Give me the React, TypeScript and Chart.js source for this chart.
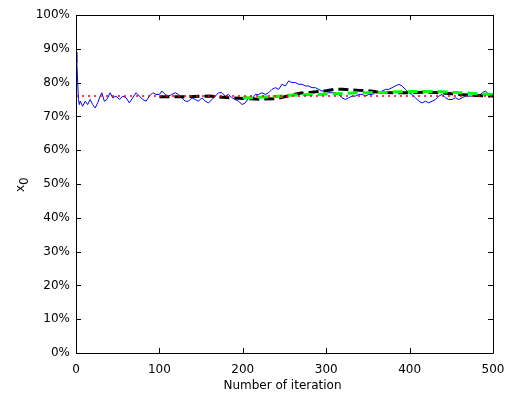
import React, { useEffect, useRef } from 'react';
import { Chart, registerables } from 'chart.js';

Chart.register(...registerables);

const xTickValues = [0, 100, 200, 300, 400, 500];
const yTickValues = [0, 10, 20, 30, 40, 50, 60, 70, 80, 90, 100];
const xTitle = 'Number of iteration';
const yTitleMain = 'x';
const yTitleSub = '0';

const blueIter = [0, 1, 2, 3, 4, 5, 8, 11, 14, 17, 20, 23, 26, 29, 31, 34, 37, 41, 44, 48, 52, 56, 60, 64, 68, 72, 76, 80, 84, 88, 92, 96, 100, 103, 107, 111, 115, 119, 123, 127, 131, 135, 139, 143, 147, 151, 155, 159, 163, 167, 171, 175, 179, 183, 187, 191, 195, 199, 203, 207, 211, 215, 219, 223, 227, 231, 235, 239, 243, 247, 251, 255, 259, 263, 267, 271, 275, 279, 283, 287, 291, 295, 299, 303, 307, 311, 315, 319, 323, 327, 331, 335, 339, 343, 347, 351, 355, 359, 363, 367, 371, 375, 379, 383, 387, 391, 395, 399, 403, 407, 411, 415, 419, 423, 427, 431, 435, 439, 443, 447, 451, 455, 459, 463, 467, 471, 475, 479, 483, 487, 491, 495, 500];
const blueValue = [89, 86, 80, 75, 73.5, 74.5, 73, 74.5, 73.5, 75, 73.5, 72.5, 74, 76, 77, 74.5, 75, 77, 75.5, 76, 75, 76, 75.5, 74, 75.5, 77, 76, 75, 74.5, 76, 77, 76.5, 76.5, 77.5, 76.5, 76, 76.5, 77, 76.5, 75.5, 74.5, 74.5, 75.5, 75, 74.5, 75.5, 74.5, 74, 75, 76, 77, 77, 76, 76.5, 75.5, 75, 74.5, 73.5, 74, 75.5, 75, 76.5, 76.5, 77, 76.5, 77, 78, 78.5, 78, 79.5, 79, 80.5, 80, 80, 79.5, 79.5, 79, 79, 78.5, 78.5, 78, 77.5, 77.5, 77, 77, 77, 76.5, 75.5, 75, 75.5, 76, 76, 76.5, 76.5, 76, 76.5, 76.5, 77, 77, 77.5, 78, 78, 78.5, 79, 79.5, 79, 78, 77, 76.5, 75.5, 74.5, 74, 74.5, 74, 74.5, 75, 76, 76.5, 75.5, 75, 75, 75.5, 75, 75.5, 76, 76, 76, 76.5, 76, 77, 77.5, 76.5, 76.5];

const blackIter = [100, 120, 140, 160, 180, 200, 220, 240, 250, 260, 270, 280, 290, 300, 310, 320, 330, 340, 350, 360, 370, 380, 390, 400, 410, 420, 430, 440, 450, 460, 470, 480, 490, 500];
const blackValue = [75.8, 75.8, 75.9, 76, 75.6, 75.3, 75.1, 75.2, 75.8, 76.4, 76.9, 77.1, 77.4, 77.6, 78, 78, 77.8, 77.7, 77.6, 77.3, 77.1, 77, 77, 77, 77.1, 77.2, 77.1, 76.9, 76.7, 76.5, 76.3, 76.2, 76.1, 76];

const greenIter = [200, 210, 220, 230, 240, 250, 260, 270, 280, 290, 300, 310, 320, 330, 340, 350, 360, 370, 380, 390, 400, 410, 420, 430, 440, 450, 460, 470, 480, 490, 500];
const greenValue = [75.5, 75.5, 75.7, 75.8, 75.9, 76.1, 76.3, 76.4, 76.5, 76.5, 76.6, 76.7, 76.8, 76.9, 77, 77, 77.1, 77.1, 77.2, 77.3, 77.4, 77.4, 77.4, 77.4, 77.3, 77.2, 77, 76.9, 76.7, 76.6, 76.5];

const redIter = [0, 500];
const redValue = [76, 76];

const toPoints = (xs: number[], ys: number[]) => xs.map((x, i) => ({ x, y: ys[i] }));

const FONT = "'DejaVu Sans', sans-serif";

const framePlugin = {
  id: 'matlabFrame',
  afterDraw(chart: any) {
    const { ctx, chartArea, scales } = chart;
    const { left, right, top, bottom } = chartArea;
    ctx.save();
    ctx.strokeStyle = '#000';
    ctx.lineWidth = 1;
    ctx.beginPath();
    ctx.rect(Math.round(left) + 0.5, Math.round(top) + 0.5, Math.round(right - left), Math.round(bottom - top));
    const tl = 5;
    xTickValues.forEach((v) => {
      const px = Math.round(scales.x.getPixelForValue(v)) + 0.5;
      ctx.moveTo(px, bottom);
      ctx.lineTo(px, bottom - tl);
      ctx.moveTo(px, top);
      ctx.lineTo(px, top + tl);
    });
    yTickValues.forEach((v) => {
      const py = Math.round(scales.y.getPixelForValue(v)) + 0.5;
      ctx.moveTo(left, py);
      ctx.lineTo(left + tl, py);
      ctx.moveTo(right, py);
      ctx.lineTo(right - tl, py);
    });
    ctx.stroke();

    ctx.fillStyle = '#000';
    ctx.font = `12px ${FONT}`;
    ctx.textAlign = 'center';
    ctx.textBaseline = 'alphabetic';
    ctx.fillText(xTitle, (left + right) / 2 - 2, 389);

    const cy = (top + bottom) / 2;
    ctx.translate(24, cy + 2);
    ctx.rotate(-Math.PI / 2);
    ctx.textAlign = 'left';
    ctx.font = `12px ${FONT}`;
    const w = ctx.measureText(yTitleMain).width;
    ctx.fillText(yTitleMain, -6, 0);
    ctx.fillText(yTitleSub, -6 + w, 4);
    ctx.restore();
  },
};

export default function App() {
  const ref = useRef<HTMLCanvasElement | null>(null);
  useEffect(() => {
    if (!ref.current) return;
    const chart = new Chart(ref.current, {
      type: 'line',
      data: {
        datasets: [
          {
            data: toPoints(redIter, redValue),
            borderColor: '#ff0000',
            borderWidth: 1.5,
            borderDash: [2, 4],
            pointRadius: 0,
            order: 0,
          },
          {
            data: toPoints(greenIter, greenValue),
            borderColor: '#00ff00',
            borderWidth: 3,
            borderDash: [10, 5],
            pointRadius: 0,
            order: 1,
          },
          {
            data: toPoints(blackIter, blackValue),
            borderColor: '#000000',
            borderWidth: 3,
            borderDash: [10, 5],
            pointRadius: 0,
            order: 2,
          },
          {
            data: toPoints(blueIter, blueValue),
            borderColor: '#0000ff',
            borderWidth: 1,
            pointRadius: 0,
            order: 3,
          },
        ],
      },
      options: {
        responsive: false,
        animation: false,
        events: [],
        layout: { padding: { left: 0, right: 12, top: 15, bottom: 0 } },
        plugins: { legend: { display: false }, tooltip: { enabled: false } },
        scales: {
          x: {
            type: 'linear',
            min: 0,
            max: 500,
            afterBuildTicks: (scale: any) => {
              scale.ticks = xTickValues.map((v) => ({ value: v }));
            },
            grid: { display: false, drawTicks: false },
            border: { display: false },
            ticks: { color: '#000', font: { family: FONT, size: 12 }, padding: 10, maxRotation: 0 },
            afterFit: (scale: any) => {
              scale.height = 44;
              scale.paddingLeft = 0;
              scale.paddingRight = 0;
            },
          },
          y: {
            type: 'linear',
            min: 0,
            max: 100,
            afterBuildTicks: (scale: any) => {
              scale.ticks = yTickValues.map((v) => ({ value: v }));
            },
            grid: { display: false, drawTicks: false },
            border: { display: false },
            ticks: {
              color: '#000',
              font: { family: FONT, size: 12 },
              padding: 6,
              callback: (v: any) => `${v}%`,
            },
            afterFit: (scale: any) => {
              scale.width = 76;
              scale.paddingTop = 0;
              scale.paddingBottom = 0;
            },
          },
        },
      },
      plugins: [framePlugin],
    });
    return () => chart.destroy();
  }, []);
  return (
    <div style={{ position: 'absolute', left: 0, top: 0, width: 505, height: 397, background: '#fff' }}>
      <canvas ref={ref} width={505} height={397} style={{ display: 'block' }} />
    </div>
  );
}
